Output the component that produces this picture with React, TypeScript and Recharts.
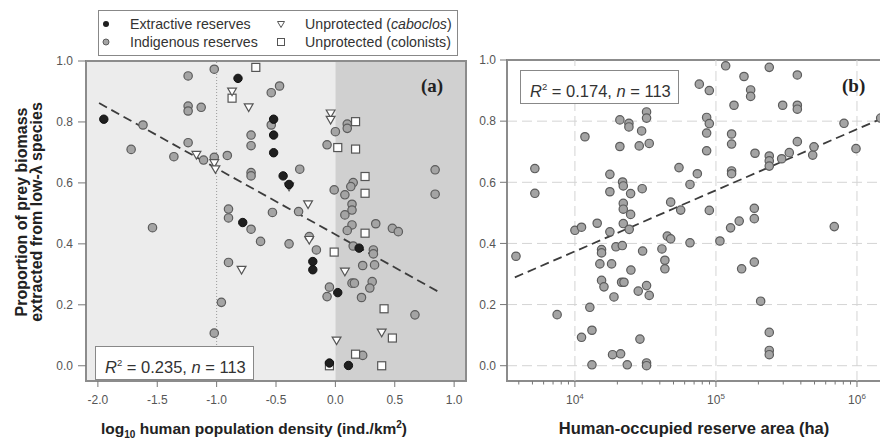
import React from 'react'
import { ScatterChart, Scatter, XAxis, YAxis, CartesianGrid, ReferenceLine, ReferenceArea } from 'recharts'

// panel (a): [log10 density, proportion]
const extractive = [
  [-0.82, 0.943], [-1.95, 0.809], [-0.52, 0.809], [-0.52, 0.757], [-0.52, 0.699], [-0.44, 0.623],
  [-0.39, 0.595], [-0.78, 0.47], [-0.19, 0.342], [-0.19, 0.315], [0.2, 0.386], [0.02, 0.24],
  [-0.05, 0.009], [0.11, 0.001],
]
const caboclos = [
  [-0.87, 0.9], [-0.73, 0.848], [-1.17, 0.692], [-1.02, 0.665], [-1.01, 0.645], [-0.39, 0.588],
  [-0.23, 0.53], [-0.04, 0.828], [-0.04, 0.807], [-0.22, 0.413], [-0.79, 0.315], [0.08, 0.309],
  [0.39, 0.109], [0.01, 0.083],
]
const colonists = [
  [-0.67, 0.979], [-0.87, 0.878], [0.02, 0.716], [0.17, 0.801], [0.17, 0.711], [0.25, 0.621],
  [0.25, 0.566], [-0.01, 0.373], [0.25, 0.435], [0.41, 0.187], [0.48, 0.091], [0.17, 0.038],
  [-0.05, 0.0], [0.39, 0.0],
]
const indigenous = [
  [-1.24, 0.951], [-1.02, 0.973], [-0.54, 0.896], [-0.47, 0.918], [-1.24, 0.852], [-1.24, 0.836],
  [-1.13, 0.848], [-1.62, 0.79], [-1.72, 0.71], [-1.24, 0.732], [-1.36, 0.686], [-1.11, 0.675],
  [-1.02, 0.684], [-0.91, 0.69], [-0.71, 0.757], [-0.71, 0.722], [-0.54, 0.79], [-0.71, 0.634],
  [-0.71, 0.623], [-0.9, 0.514], [-0.9, 0.485], [-0.53, 0.503], [-0.3, 0.645], [-0.31, 0.506],
  [0.0, 0.768], [-0.07, 0.725], [0.1, 0.793], [0.1, 0.779], [0.84, 0.643], [0.84, 0.563],
  [0.15, 0.601], [0.13, 0.588], [-0.01, 0.577], [0.08, 0.561], [0.14, 0.53], [0.14, 0.511],
  [0.08, 0.495], [-0.71, 0.448], [-0.63, 0.408], [-0.39, 0.4], [-1.54, 0.453], [-0.9, 0.339],
  [-0.96, 0.208], [-1.02, 0.107], [-0.22, 0.424], [-0.16, 0.38], [0.14, 0.462], [0.1, 0.444],
  [0.34, 0.466], [0.48, 0.451], [0.53, 0.44], [0.15, 0.393], [0.32, 0.38], [0.32, 0.367],
  [0.23, 0.329], [0.33, 0.331], [0.14, 0.271], [0.16, 0.271], [0.31, 0.276], [0.29, 0.255],
  [-0.05, 0.258], [-0.07, 0.227], [0.22, 0.224], [0.67, 0.167], [0.23, 0.034],
]
// panel (b): [reserve area (ha), proportion]
const reserves = [
  [5200, 0.645], [5200, 0.564], [11780, 0.749], [20840, 0.804], [24150, 0.793], [24150, 0.781],
  [20840, 0.717], [29720, 0.768], [32210, 0.83], [32210, 0.81], [28580, 0.719], [33650, 0.727],
  [17700, 0.626], [21780, 0.601], [22030, 0.588], [17700, 0.569], [24830, 0.563], [29990, 0.579],
  [22030, 0.531], [47750, 0.535], [54700, 0.648], [65460, 0.593], [73790, 0.628], [56230, 0.509],
  [76210, 0.921], [89740, 0.9], [85900, 0.812], [89740, 0.792], [85900, 0.761], [85900, 0.703],
  [89740, 0.508], [117200, 0.981], [158100, 0.946], [134300, 0.852], [176200, 0.902], [176200, 0.881],
  [129100, 0.758], [129100, 0.725], [129100, 0.637], [129100, 0.628], [189200, 0.695], [238800, 0.976],
  [238800, 0.686], [238800, 0.67], [238800, 0.653], [292400, 0.677], [297200, 0.852], [331100, 0.697],
  [377600, 0.951], [377600, 0.852], [377600, 0.839], [377600, 0.733], [485300, 0.689], [495500, 0.716],
  [809100, 0.793], [984000, 0.71], [1472000, 0.81], [187100, 0.515], [146200, 0.473], [3820, 0.358],
  [7480, 0.167], [10000, 0.443], [11140, 0.453], [14390, 0.466], [17700, 0.438], [22030, 0.512],
  [22030, 0.465], [24830, 0.495], [24270, 0.446], [15450, 0.38], [15450, 0.369], [19540, 0.389],
  [21680, 0.393], [15030, 0.333], [18200, 0.333], [30200, 0.375], [41400, 0.382], [45190, 0.424],
  [47750, 0.415], [65460, 0.402], [43450, 0.345], [43450, 0.317], [24950, 0.313], [15450, 0.279],
  [16070, 0.258], [21430, 0.273], [22280, 0.273], [18920, 0.225], [28120, 0.244], [32210, 0.262],
  [33650, 0.23], [12760, 0.191], [11140, 0.093], [13210, 0.116], [28910, 0.087], [18490, 0.036],
  [21090, 0.039], [13210, 0.003], [23500, 0.003], [32210, 0.009], [32210, 0.0], [106700, 0.408],
  [127000, 0.451], [187100, 0.481], [152100, 0.317], [187100, 0.339], [207500, 0.211], [238800, 0.109],
  [238800, 0.05], [238800, 0.036], [690200, 0.455],
]

const fitA = [[-1.99, 0.862], [0.886, 0.239]]
const fitB = [[3750, 0.289], [1470000, 0.807]]

const densityTicks = [-2, -1.5, -1, -0.5, 0, 0.5, 1]
const propTicks = [0, 0.2, 0.4, 0.6, 0.8, 1]
const areaMajor = [1e4, 1e5, 1e6]
const areaMinor = [1e3, 1e4, 1e5].flatMap(d => [2, 3, 4, 5, 6, 7, 8, 9].map(m => m * d)).filter(v => v > 3300)
const gridProps = [0, 0.2, 0.4, 0.6, 0.8]

const FONT = '"Liberation Sans", Arial, sans-serif'
const FRAME = '#8c8c8c'
const toPts = (a: number[][]) => a.map(([x, y]) => ({ x, y }))

const grayDot = (p: any) => <circle cx={p.cx} cy={p.cy} r={4.2} fill="#a4a4a4" stroke="#5c5c5c" strokeWidth={1.2} />
const blackDot = (p: any) => <circle cx={p.cx} cy={p.cy} r={4.2} fill="#1f1f1f" stroke="#111" strokeWidth={1} />
const triDown = (p: any) => (
  <path d={`M${p.cx - 4.4},${p.cy - 3.4} L${p.cx + 4.4},${p.cy - 3.4} L${p.cx},${p.cy + 4.2} Z`} fill="#fff" stroke="#555" strokeWidth={1.2} />
)
const square = (p: any) => <rect x={p.cx - 4} y={p.cy - 4} width={8} height={8} fill="#fff" stroke="#555" strokeWidth={1.2} />

const tickStyle = { fontSize: 12, fill: '#555', fontFamily: FONT }
const fmt = (v: number) => v.toFixed(1)

function AreaTick({ x, y, payload }: any) {
  const major = areaMajor.includes(payload.value)
  const exp = Math.round(Math.log10(payload.value))
  return (
    <g>
      <line x1={x} x2={x} y1={y} y2={y + (major ? 6 : 3.5)} stroke="#777" strokeWidth={1} />
      {major && (
        <text x={x} y={y + 23} textAnchor="middle" fontSize={12} fill="#555" fontFamily={FONT}>
          10<tspan dy={-5} fontSize={8}>{exp}</tspan>
        </text>
      )}
    </g>
  )
}

const legendItems = [
  { label: 'Extractive reserves', mark: 'black', left: 99, top: 16 },
  { label: 'Indigenous reserves', mark: 'gray', left: 99, top: 34 },
  { label: <>Unprotected (<i>caboclos</i>)</>, mark: 'tri', left: 274, top: 16 },
  { label: 'Unprotected (colonists)', mark: 'sq', left: 274, top: 34 },
]

function LegendMark({ mark }: { mark: string }) {
  return (
    <svg width={14} height={16} style={{ position: 'absolute', left: 0, top: 0 }}>
      {mark === 'black' && <circle cx={7} cy={8} r={3} fill="#1f1f1f" />}
      {mark === 'gray' && <circle cx={7} cy={8} r={3} fill="#a4a4a4" stroke="#5c5c5c" />}
      {mark === 'tri' && <path d="M3.5,5.5 L10.5,5.5 L7,11.5 Z" fill="#fff" stroke="#555" />}
      {mark === 'sq' && <rect x={3.5} y={4.5} width={7} height={7} fill="#fff" stroke="#555" />}
    </svg>
  )
}

const statBox = (left: number, top: number, r2: string) => (
  <div style={{ position: 'absolute', left, top, width: 139, height: 32, padding: '0 9px', border: '1px solid #888', background: '#fff', fontFamily: FONT, fontSize: 16.5, color: '#333', lineHeight: '32px', whiteSpace: 'nowrap' }}>
    <i>R</i><sup style={{ fontSize: 9.5 }}>2</sup> = {r2}, <i>n</i> = 113
  </div>
)

export default function App() {
  return (
    <div style={{ position: 'absolute', left: 0, top: 0, width: 880, height: 441, overflow: 'hidden', background: '#fff' }}>
      <div style={{ position: 'absolute', left: 0, top: 0 }}>
        <ScatterChart width={470} height={441} margin={{ top: 61, right: 4, bottom: 0, left: 0 }}>
          <ReferenceArea x1={-2.1} x2={0} y1={-0.05} y2={1} fill="#ececec" fillOpacity={1} stroke="none" />
          <ReferenceArea x1={0} x2={1.1} y1={-0.05} y2={1} fill="#d0d0d0" fillOpacity={1} stroke="none" />
          <ReferenceLine x={-1} stroke="#9a9a9a" strokeDasharray="1 2" />
          <XAxis type="number" dataKey="x" domain={[-2.1, 1.1]} allowDataOverflow ticks={densityTicks} tickFormatter={fmt}
            height={60} axisLine={false} tickSize={6} tickMargin={8} tickLine={{ stroke: '#777' }} tick={tickStyle}
            label={() => (
              <text x={254} y={434} textAnchor="middle" fontFamily={FONT} fontWeight="bold" fontSize={15.5} fill="#222">
                log<tspan dy={4} fontSize={10}>10</tspan><tspan dy={-4}> human population density (ind./km</tspan><tspan dy={-6} fontSize={10}>2</tspan><tspan dy={6}>)</tspan>
              </text>
            )} />
          <YAxis type="number" dataKey="y" domain={[-0.05, 1]} allowDataOverflow ticks={propTicks} tickFormatter={fmt}
            width={86} axisLine={false} tickSize={8} tickMargin={5} tickLine={{ stroke: '#777' }} tick={tickStyle}
            label={() => (
              <g fontFamily={FONT} fontWeight="bold" fontSize={16} fill="#222">
                <text x={27} y={212} textAnchor="middle" transform="rotate(-90 27 212)">Proportion of prey biomass</text>
                <text x={42} y={212} textAnchor="middle" transform="rotate(-90 42 212)">extracted from low-λ species</text>
              </g>
            )} />
          <ReferenceLine segment={toPts(fitA)} stroke="#3c3c3c" strokeWidth={1.8} strokeDasharray="9 5" ifOverflow="visible" />
          <Scatter data={toPts(indigenous)} shape={grayDot} isAnimationActive={false} />
          <Scatter data={toPts(colonists)} shape={square} isAnimationActive={false} />
          <Scatter data={toPts(caboclos)} shape={triDown} isAnimationActive={false} />
          <Scatter data={toPts(extractive)} shape={blackDot} isAnimationActive={false} />
          <ReferenceArea x1={-2.1} x2={1.1} y1={-0.05} y2={1} fill="none" stroke={FRAME} strokeWidth={2} />
        </ScatterChart>
      </div>

      <div style={{ position: 'absolute', left: 462, top: 0 }}>
        <ScatterChart width={430} height={441} margin={{ top: 60, right: 7, bottom: 0, left: 0 }}>
          <CartesianGrid vertical={false} horizontalValues={gridProps} stroke="#d4d4d4" strokeDasharray="10 5" />
          {areaMajor.map(v => (
            <ReferenceLine key={v} x={v} stroke="#d4d4d4" strokeDasharray="10 5" />
          ))}
          <XAxis type="number" dataKey="x" scale="log" domain={[3300, 1580000]} allowDataOverflow ticks={[...areaMajor, ...areaMinor].sort((a, b) => a - b)}
            height={60} axisLine={false} tickLine={false} tickSize={0} tickMargin={0} tick={<AreaTick />} interval={0}
            label={() => (
              <text x={232} y={434} textAnchor="middle" fontFamily={FONT} fontWeight="bold" fontSize={16.5} fill="#222">
                Human-occupied reserve area (ha)
              </text>
            )} />
          <YAxis type="number" dataKey="y" domain={[-0.05, 1]} allowDataOverflow ticks={propTicks} tickFormatter={fmt}
            width={45} axisLine={false} tickSize={7} tickMargin={4} tickLine={{ stroke: '#777' }} tick={tickStyle} />
          <ReferenceLine segment={toPts(fitB)} stroke="#3c3c3c" strokeWidth={1.8} strokeDasharray="9 5" ifOverflow="visible" />
          <Scatter data={toPts(reserves)} shape={grayDot} isAnimationActive={false} />
          <ReferenceArea x1={3300} x2={1580000} y1={-0.05} y2={1} fill="none" stroke={FRAME} strokeWidth={2} />
        </ScatterChart>
      </div>

      <div style={{ position: 'absolute', left: 98, top: 10, width: 358, height: 44, border: '1px solid #888', background: '#fff' }} />
      {legendItems.map((it, i) => (
        <div key={i} style={{ position: 'absolute', left: it.left, top: it.top, height: 16, paddingLeft: 31, fontFamily: FONT, fontSize: 14.2, color: '#333', lineHeight: '16px', whiteSpace: 'nowrap' }}>
          <LegendMark mark={it.mark} />
          {it.label}
        </div>
      ))}

      {statBox(95, 346, '0.235')}
      {statBox(520, 70, '0.174')}

      <div style={{ position: 'absolute', left: 421, top: 75, fontFamily: '"Liberation Serif", "Times New Roman", serif', fontWeight: 'bold', fontSize: 19, color: '#222' }}>(a)</div>
      <div style={{ position: 'absolute', left: 842, top: 75, fontFamily: '"Liberation Serif", "Times New Roman", serif', fontWeight: 'bold', fontSize: 19, color: '#222' }}>(b)</div>
    </div>
  )
}
